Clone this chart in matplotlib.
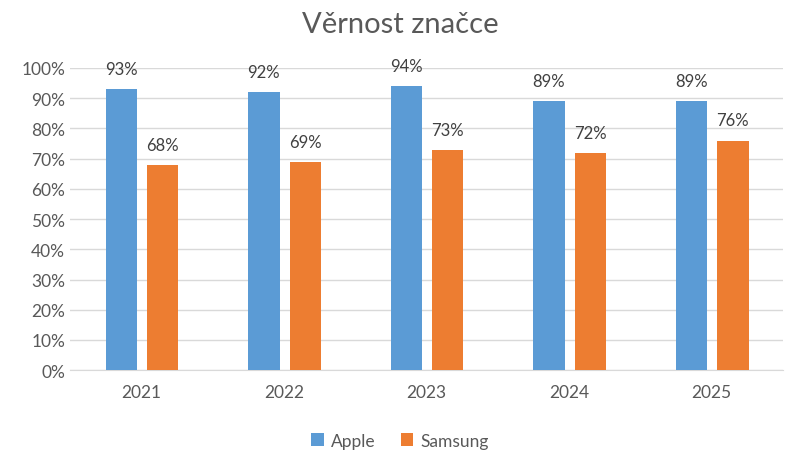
import matplotlib.pyplot as plt
import numpy as np

plt.rcParams['font.family'] = ['Lato', 'DejaVu Sans']

years = ['2021', '2022', '2023', '2024', '2025']
apple = [93, 92, 94, 89, 89]
samsung = [68, 69, 73, 72, 76]

blue = '#5B9BD5'
orange = '#ED7D31'
txt = '#595959'

fig = plt.figure(figsize=(8, 4.6), dpi=100)
ax = fig.add_axes([0.0875, 0.193, 0.891, 0.657])

x = np.arange(len(years))
w = 0.22
b1 = ax.bar(x - 0.14, apple, w, color=blue, label='Apple', zorder=3)
b2 = ax.bar(x + 0.15, samsung, w, color=orange, label='Samsung', zorder=3)

for bars, vals in [(b1, apple), (b2, samsung)]:
    for r, v in zip(bars, vals):
        ax.text(r.get_x() + r.get_width() / 2, v + 4, f'{v}%', ha='center', va='bottom',
                fontsize=12, color='#404040')

ax.set_xlim(-0.5, len(years) - 0.5)
ax.set_ylim(0, 100)
ax.set_yticks(range(0, 101, 10))
ax.set_yticklabels([f'{t}%' for t in range(0, 101, 10)])
ax.set_xticks(x)
ax.set_xticklabels(years)
ax.tick_params(axis='both', length=0, labelsize=12.5, labelcolor=txt)
ax.tick_params(axis='x', pad=10)
ax.grid(axis='y', color='#D9D9D9', linewidth=1, zorder=0)
for s in ['top', 'right', 'left']:
    ax.spines[s].set_visible(False)
ax.spines['bottom'].set_color('#D9D9D9')

fig.text(0.5, 0.945, 'Věrnost značce', ha='center', va='center', fontsize=21, color=txt)
fig.legend(handles=[b1, b2], loc='center', bbox_to_anchor=(0.5, 0.04), ncol=2,
           frameon=False, fontsize=12.5, labelcolor=txt, handlelength=0.7, handleheight=0.7,
           columnspacing=1.5, handletextpad=0.4)

fig.savefig('out.png', dpi=100)
